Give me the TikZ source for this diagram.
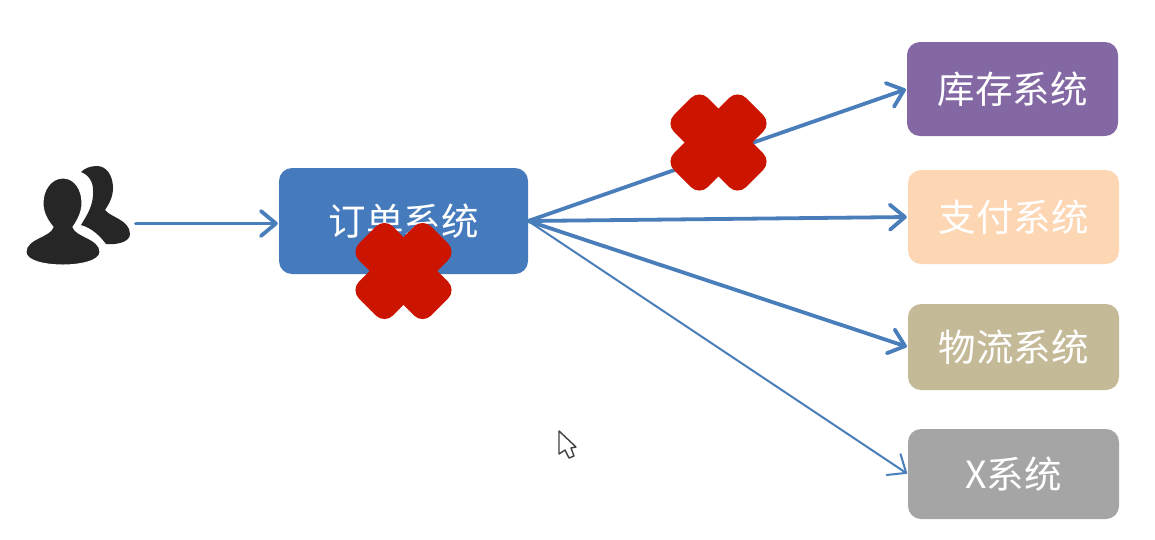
\documentclass[tikz,border=0pt]{standalone}
\usepackage{fontspec}
\setmainfont{Noto Sans CJK SC}
\usetikzlibrary{arrows.meta}
\definecolor{boxblue}{HTML}{457BBD}
\definecolor{linkblue}{HTML}{4A7EBB}
\definecolor{boxpurple}{HTML}{8368A3}
\definecolor{boxpeach}{HTML}{FDD6B4}
\definecolor{boxtan}{HTML}{C5BA97}
\definecolor{boxgray}{HTML}{A5A5A5}
\definecolor{crossred}{HTML}{CC1500}
\definecolor{iconblack}{HTML}{262626}
\tikzset{
  sysbox/.style={rounded corners=13pt,inner sep=0pt,text=white,font=\fontsize{37.5pt}{40pt}\selectfont,anchor=center},
  link/.style={draw=linkblue,line cap=round,line width=3.8pt,shorten >=1pt,-{Straight Barb[length=15pt,width=25pt,line width=3.8pt,round]}},
  thinlink/.style={draw=linkblue,line cap=round,line width=2pt,shorten >=1pt,-{Straight Barb[length=15pt,width=25pt,line width=2pt,round]}},
  crossarm/.style={fill=crossred,rounded corners=12pt},
}
\newcommand{\crossat}[2]{%
  \fill[crossarm,shift={(#1,#2)},rotate=45] (-24,-51) rectangle (24,51);
  \fill[crossarm,shift={(#1,#2)},rotate=-45] (-24,-51) rectangle (24,51);}
\begin{document}
\begin{tikzpicture}[x=1pt,y=-1pt]
\useasboundingbox (0,0) rectangle (1155,539);
% users icon: back figure
\fill[iconblack] (97,166) .. controls (106,166) and (113,175) .. (113,188)
  .. controls (113,197) and (109,204) .. (105,210)
  .. controls (110,217) and (130,220) .. (130,234)
  .. controls (130,242) and (117,245) .. (106,244)
  .. controls (100,236) and (92,228) .. (81,225)
  .. controls (87,215) and (94,205) .. (93,190)
  .. controls (93,182) and (89,175) .. (81,172)
  .. controls (85,168) and (91,166) .. (97,166) -- cycle;
% front figure
\fill[iconblack,draw=white,line width=1pt] (63,178) .. controls (75,178) and (82,190) .. (82,203)
  .. controls (82,213) and (77,221) .. (73,227)
  .. controls (76,237) and (100,238) .. (100,252)
  .. controls (100,261) and (80,265) .. (63,265)
  .. controls (45,265) and (26,261) .. (26,252)
  .. controls (26,238) and (50,237) .. (53,227)
  .. controls (48,221) and (43,213) .. (43,203)
  .. controls (43,190) and (51,178) .. (63,178) -- cycle;
% boxes
\node[sysbox,fill=boxblue,minimum width=249pt,minimum height=106pt] (order) at (403.5,221) {订单系统};
\node[sysbox,fill=boxpurple,minimum width=211pt,minimum height=94pt] (stock) at (1012.5,89) {库存系统};
\node[sysbox,fill=boxpeach,minimum width=211pt,minimum height=94pt] (pay) at (1013.5,217) {支付系统};
\node[sysbox,fill=boxtan,minimum width=211pt,minimum height=86pt] (ship) at (1013.5,347) {物流系统};
\node[sysbox,fill=boxgray,minimum width=211pt,minimum height=90pt] (other) at (1013.5,474) {X系统};
\coordinate (userout) at (136,223.5);
\coordinate (orderin) at (order.west);
% connectors
\draw[link] (userout) -- (orderin |- userout);
\draw[link] (order.east) -- (stock.west);
\draw[link] (order.east) -- (pay.west);
\draw[link] (order.east) -- (ship.west);
\draw[thinlink] (order.east) -- (other.west);
% crosses
\crossat{403.5}{271}
\crossat{718.5}{142.5}
% cursor
\draw[fill=white,draw=black!75,line width=1.4pt,line join=round]
  (559,431) -- (576,447) -- (571,448) -- (574,456) -- (569,458) -- (565,450) -- (559,454) -- cycle;
\end{tikzpicture}
\end{document}
